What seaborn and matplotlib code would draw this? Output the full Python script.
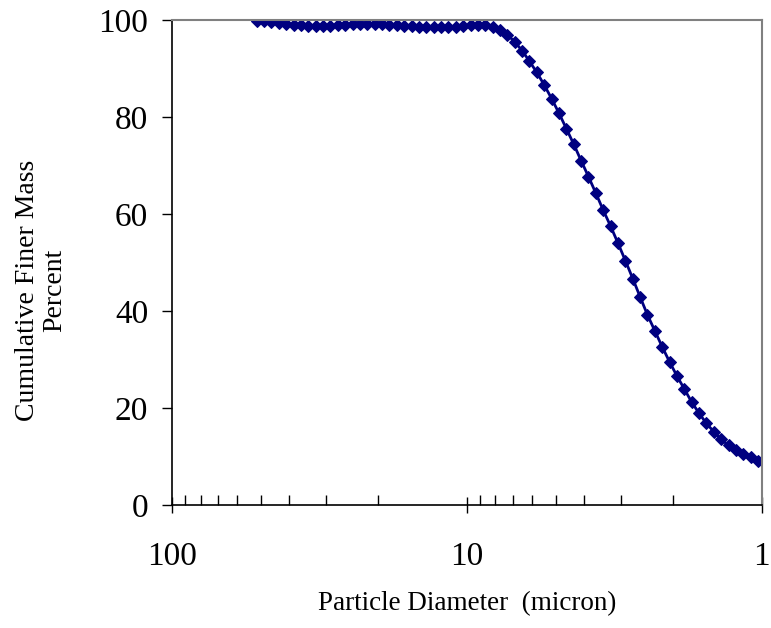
import matplotlib
matplotlib.use("Agg")
import matplotlib.pyplot as plt
import matplotlib.ticker as mticker
import seaborn as sns
import pandas as pd

# particle diameters (micron), fine -> coarse
diameter = [1.029, 1.090, 1.155, 1.223, 1.296, 1.373, 1.454, 1.540, 1.631, 1.728,
            1.830, 1.939, 2.054, 2.175, 2.304, 2.441, 2.585, 2.738, 2.901, 3.073,
            3.255, 3.448, 3.652, 3.868, 4.097, 4.340, 4.597, 4.870, 5.158, 5.464,
            5.788, 6.131, 6.494, 6.879, 7.286, 7.718, 8.175, 8.660, 9.173, 9.716,
            10.29, 10.90, 11.55, 12.23, 12.96, 13.73, 14.54, 15.40, 16.31, 17.28,
            18.30, 19.39, 20.54, 21.75, 23.04, 24.41, 25.85, 27.38, 29.01, 30.73,
            32.55, 34.48, 36.52, 38.68, 40.97, 43.40, 45.97, 48.70, 51.58]

# cumulative finer mass percent
finer = [9.1, 9.8, 10.5, 11.3, 12.3, 13.5, 15.1, 16.8, 18.9, 21.2,
         23.9, 26.6, 29.5, 32.6, 35.9, 39.2, 42.9, 46.7, 50.4, 54.0,
         57.5, 60.8, 64.3, 67.7, 71.0, 74.4, 77.6, 80.8, 83.8, 86.6,
         89.2, 91.5, 93.7, 95.5, 97.0, 97.9, 98.6, 98.9, 99.0, 98.9,
         98.8, 98.6, 98.5, 98.6, 98.5, 98.5, 98.6, 98.7, 98.8, 98.9,
         99.0, 99.1, 99.2, 99.2, 99.2, 99.1, 99.0, 98.9, 98.8, 98.7,
         98.7, 98.8, 98.9, 99.0, 99.2, 99.4, 99.6, 99.8, 99.9]

x_ticks = [100, 10, 1]
x_labels = ["100", "10", "1"]
y_ticks = [0, 20, 40, 60, 80, 100]

df = pd.DataFrame({"diameter": diameter, "finer": finer})

sns.set_theme(style="ticks")
plt.rcParams["font.family"] = ["Liberation Serif", "DejaVu Serif"]
plt.rcParams["text.color"] = "black"
plt.rcParams["axes.labelcolor"] = "black"
plt.rcParams["xtick.labelcolor"] = "black"
plt.rcParams["ytick.labelcolor"] = "black"

fig = plt.figure(figsize=(7.71, 6.28), dpi=100)
ax = fig.add_axes([0.223, 0.196, 0.765, 0.772])

sns.lineplot(data=df, x="diameter", y="finer", ax=ax, color="#000080",
             marker="D", markersize=6.5, markeredgecolor="#000080",
             linewidth=2, sort=False, estimator=None)

ax.set_xscale("log")
ax.set_xlim(100, 1)
ax.set_ylim(0, 100)

ax.xaxis.set_major_locator(mticker.FixedLocator(x_ticks))
ax.xaxis.set_major_formatter(mticker.FixedFormatter(x_labels))
ax.xaxis.set_minor_locator(mticker.LogLocator(base=10, subs=range(2, 10)))
ax.xaxis.set_minor_formatter(mticker.NullFormatter())
ax.set_yticks(y_ticks)

ax.tick_params(axis="x", which="major", direction="inout", length=12, width=1,
               color="black", labelsize=24, pad=20)
ax.tick_params(axis="x", which="minor", direction="in", length=7, width=1,
               color="black")
ax.tick_params(axis="y", which="major", direction="out", length=7, width=1,
               color="black", labelsize=24, pad=10)

for side in ["top", "right"]:
    ax.spines[side].set_color("#808080")
    ax.spines[side].set_linewidth(1.5)
for side in ["left", "bottom"]:
    ax.spines[side].set_color("black")
    ax.spines[side].set_linewidth(1.2)

ax.set_xlabel("Particle Diameter  (micron)", fontsize=19.5, labelpad=14)
ax.set_ylabel("Cumulative Finer Mass\nPercent", fontsize=20, linespacing=1.1)
ax.yaxis.set_label_coords(-0.178, 0.443)

fig.savefig("out.png", dpi=100)
